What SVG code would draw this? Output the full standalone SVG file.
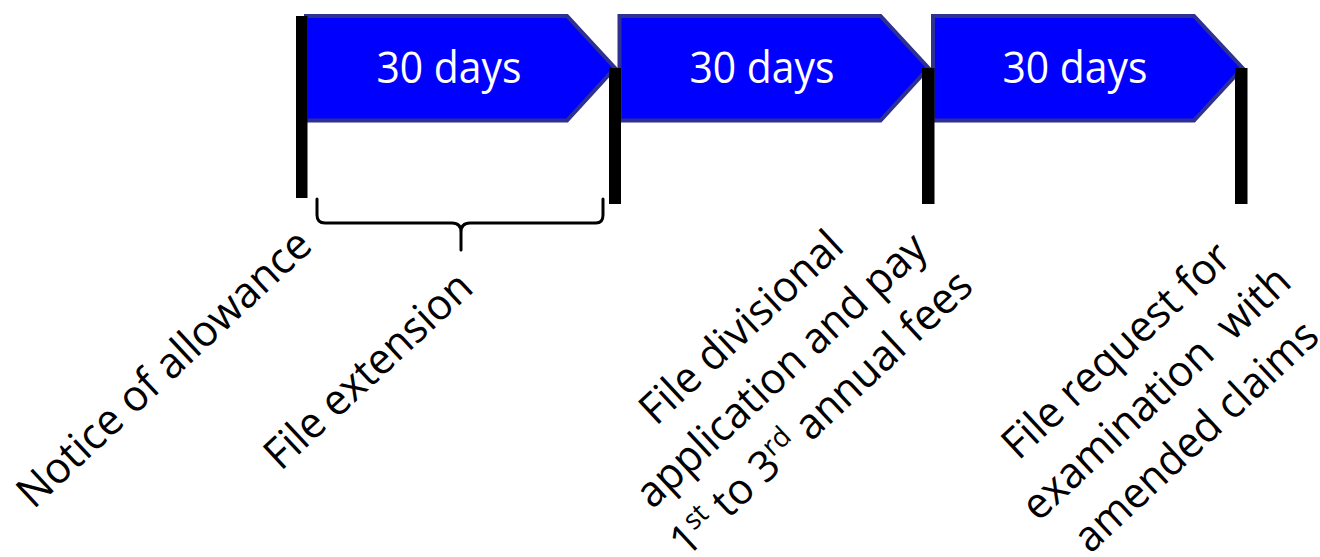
<svg xmlns="http://www.w3.org/2000/svg" width="1320" height="557" viewBox="0 0 1320 557">
<style>
.arrow{fill:#0000FF;stroke:#2E3192;stroke-width:4;stroke-linejoin:miter}
.days{font-family:"Open Sans","Noto Sans",sans-serif;font-size:43px;fill:#FFFFFF;text-anchor:middle}
.lbl{font-family:"Open Sans","Noto Sans",sans-serif;font-size:43px;fill:#000000;text-anchor:middle}
.bar{fill:#000000}
.brace{fill:none;stroke:#000000;stroke-width:3;stroke-linecap:round;stroke-linejoin:round}
</style>
<rect width="1320" height="557" fill="#FFFFFF"/>
<g id="step1">
<polygon class="arrow" points="306,16 567,16 615,68 567,120.5 306,120.5"/>
<text class="days" x="449" y="83" textLength="145" lengthAdjust="spacingAndGlyphs">30 days</text>
</g>
<g id="step2">
<polygon class="arrow" points="619.5,16 880.5,16 928.5,68 880.5,120.5 619.5,120.5"/>
<text class="days" x="762" y="83" textLength="145" lengthAdjust="spacingAndGlyphs">30 days</text>
</g>
<g id="step3">
<polygon class="arrow" points="933,16 1194,16 1242.5,68 1194,120.5 933,120.5"/>
<text class="days" x="1075" y="83" textLength="145" lengthAdjust="spacingAndGlyphs">30 days</text>
</g>
<g id="ticks">
<rect class="bar" x="296" y="16" width="11.5" height="182"/>
<rect class="bar" x="609" y="68" width="12" height="136"/>
<rect class="bar" x="922" y="68" width="12.5" height="136"/>
<rect class="bar" x="1235" y="68" width="12.5" height="136"/>
</g>
<g id="connectors">
<path class="brace" d="M317,199 L317,215 Q317,223 325,223 L452,223 Q461,223 461,232 L461,250 M461,232 Q461,223 470,223 L596,223 Q603,223 603,215 L603,199"/>
</g>
<g id="notice" transform="translate(174,379) rotate(-43)">
<text class="lbl" x="0" y="0" textLength="384" lengthAdjust="spacingAndGlyphs">Notice of allowance</text>
</g>
<g id="extension" transform="translate(378,381) rotate(-43)">
<text class="lbl" x="0" y="0" textLength="266" lengthAdjust="spacingAndGlyphs">File extension</text>
</g>
<g id="divisional" transform="translate(751,338) rotate(-43)">
<text class="lbl" x="0" y="0" textLength="260" lengthAdjust="spacingAndGlyphs">File divisional</text>
<text class="lbl" x="0" y="58.6" textLength="379" lengthAdjust="spacingAndGlyphs">application and pay</text>
<text class="lbl" x="0" y="117.2" textLength="395" lengthAdjust="spacingAndGlyphs">1<tspan font-size="28" dy="-15">st</tspan><tspan dy="15"> to 3</tspan><tspan font-size="28" dy="-15">rd</tspan><tspan dy="15"> annual fees</tspan></text>
</g>
<g id="examination" transform="translate(1126,361) rotate(-43)">
<text class="lbl" x="0" y="0" textLength="294" lengthAdjust="spacingAndGlyphs">File request for</text>
<text class="lbl" x="0" y="58.6" textLength="349" lengthAdjust="spacingAndGlyphs" xml:space="preserve">examination  with</text>
<text class="lbl" x="0" y="117.2" textLength="316" lengthAdjust="spacingAndGlyphs">amended claims</text>
</g>
</svg>
